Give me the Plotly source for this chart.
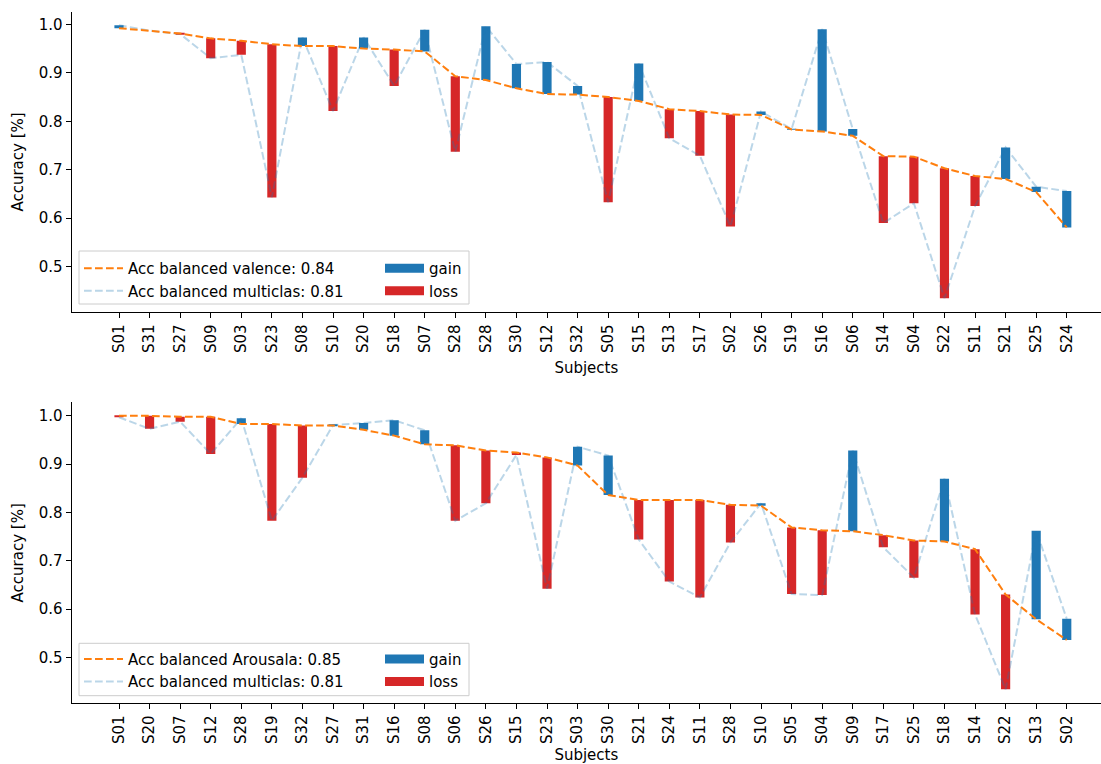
import plotly.graph_objects as go

# ---------------- data ----------------
subjects_valence = ["S01", "S31", "S27", "S09", "S03", "S23", "S08", "S10", "S20", "S18", "S07",
                    "S28", "S28", "S30", "S12", "S32", "S05", "S15", "S13", "S17", "S02", "S26",
                    "S19", "S16", "S06", "S14", "S04", "S22", "S11", "S21", "S25", "S24"]
acc_valence = [0.992, 0.987, 0.981, 0.971, 0.966, 0.959, 0.955, 0.955, 0.950, 0.948, 0.944,
               0.893, 0.885, 0.868, 0.856, 0.855, 0.850, 0.842, 0.825, 0.821, 0.814, 0.813,
               0.783, 0.779, 0.770, 0.728, 0.727, 0.703, 0.687, 0.681, 0.654, 0.581]
acc_multi_valence = [0.998, 0.987, 0.980, 0.930, 0.937, 0.643, 0.973, 0.821, 0.973, 0.873, 0.989,
                     0.737, 0.996, 0.918, 0.922, 0.873, 0.633, 0.919, 0.765, 0.729, 0.583, 0.820,
                     0.784, 0.990, 0.784, 0.590, 0.631, 0.435, 0.625, 0.746, 0.665, 0.656]

subjects_arousal = ["S01", "S20", "S07", "S12", "S28", "S19", "S32", "S27", "S31", "S16", "S08",
                    "S06", "S26", "S15", "S23", "S03", "S30", "S21", "S24", "S11", "S28", "S10",
                    "S05", "S04", "S09", "S17", "S25", "S18", "S14", "S22", "S13", "S02"]
acc_arousal = [1.000, 1.000, 0.998, 0.998, 0.983, 0.983, 0.980, 0.980, 0.971, 0.959, 0.941,
               0.939, 0.928, 0.924, 0.914, 0.897, 0.836, 0.826, 0.826, 0.826, 0.816, 0.814,
               0.769, 0.763, 0.761, 0.753, 0.742, 0.740, 0.724, 0.630, 0.579, 0.536]
acc_multi_arousal = [0.997, 0.973, 0.988, 0.921, 0.995, 0.783, 0.872, 0.981, 0.985, 0.991, 0.970,
                     0.783, 0.819, 0.919, 0.642, 0.936, 0.918, 0.744, 0.657, 0.624, 0.738, 0.819,
                     0.631, 0.629, 0.928, 0.728, 0.665, 0.870, 0.589, 0.434, 0.762, 0.580]

label_valence = "Acc balanced valence: 0.84"
label_arousal = "Acc balanced Arousala: 0.85"
label_multi = "Acc balanced multiclas: 0.81"
y_ticks = [0.5, 0.6, 0.7, 0.8, 0.9, 1.0]

# ---------------- style ----------------
W, H = 1101, 764
FONT = "DejaVu Sans"
FS = 15
ORANGE = "#ff7f0e"
LIGHTBLUE = "rgba(31,119,180,0.3)"
GAIN = "#1f77b4"
LOSS = "#d62728"
DASH = "7.7px,3.3px"


def px_x(p):
    return p / W


def px_y(p):
    return (H - p) / H


fig = go.Figure()

panels = [
    dict(subj=subjects_valence, main=acc_valence, multi=acc_multi_valence, label=label_valence,
         xa="x", ya="y", dom=(312.3, 11.7), rng=(0.406, 1.026),
         leg=("legend", "legend2"), box=(251, 304), rows=(266, 289)),
    dict(subj=subjects_arousal, main=acc_arousal, multi=acc_multi_arousal, label=label_arousal,
         xa="x2", ya="y2", dom=(703.3, 402.3), rng=(0.405, 1.028),
         leg=("legend3", "legend4"), box=(643.3, 695.7), rows=(656.7, 680.7)),
]

layout_extra = {}
for k, p in enumerate(panels):
    n = len(p["subj"])
    xs = list(range(n))
    gx = [i for i in xs if p["multi"][i] >= p["main"][i]]
    lx = [i for i in xs if p["multi"][i] < p["main"][i]]
    # gain bars
    fig.add_trace(go.Bar(x=gx, base=[p["main"][i] for i in gx],
                         y=[p["multi"][i] - p["main"][i] for i in gx],
                         width=0.3, marker=dict(color=GAIN, line=dict(width=0)),
                         xaxis=p["xa"], yaxis=p["ya"], showlegend=False, hoverinfo="skip"))
    # loss bars
    fig.add_trace(go.Bar(x=lx, base=[p["multi"][i] for i in lx],
                         y=[p["main"][i] - p["multi"][i] for i in lx],
                         width=0.3, marker=dict(color=LOSS, line=dict(width=0)),
                         xaxis=p["xa"], yaxis=p["ya"], showlegend=False, hoverinfo="skip"))
    # multiclass line
    fig.add_trace(go.Scatter(x=xs, y=p["multi"], mode="lines", name=label_multi,
                             line=dict(color=LIGHTBLUE, width=2, dash=DASH),
                             xaxis=p["xa"], yaxis=p["ya"], legend=p["leg"][0],
                             legendgroup=f"m{k}", legendrank=2))
    # main line
    fig.add_trace(go.Scatter(x=xs, y=p["main"], mode="lines", name=p["label"],
                             line=dict(color=ORANGE, width=2, dash=DASH),
                             xaxis=p["xa"], yaxis=p["ya"], legend=p["leg"][0],
                             legendgroup=f"v{k}", legendrank=1))
    # legend entries for the bars
    fig.add_trace(go.Scatter(x=[None], y=[None], mode="lines", name="gain",
                             line=dict(color=GAIN, width=9),
                             xaxis=p["xa"], yaxis=p["ya"], legend=p["leg"][1],
                             legendgroup=f"g{k}", legendrank=1))
    fig.add_trace(go.Scatter(x=[None], y=[None], mode="lines", name="loss",
                             line=dict(color=LOSS, width=9),
                             xaxis=p["xa"], yaxis=p["ya"], legend=p["leg"][1],
                             legendgroup=f"l{k}", legendrank=2))

    axis_common = dict(showline=True, linecolor="black", linewidth=1.1, ticks="outside",
                       ticklen=5, tickwidth=1.1, tickcolor="black", showgrid=False,
                       zeroline=False, automargin=False,
                       tickfont=dict(family=FONT, size=FS, color="black"))
    xkey = "xaxis" if p["xa"] == "x" else "xaxis2"
    ykey = "yaxis" if p["ya"] == "y" else "yaxis2"
    layout_extra[xkey] = dict(axis_common, domain=[px_x(71.7), 1.0], range=[-1.547, 32.12],
                              tickmode="array", tickvals=xs, ticktext=p["subj"], tickangle=-90,
                              anchor=p["ya"],
                              title=dict(text="Subjects", font=dict(family=FONT, size=FS, color="black"),
                                         standoff=10))
    layout_extra[ykey] = dict(axis_common, domain=[px_y(p["dom"][0]), px_y(p["dom"][1])],
                              range=list(p["rng"]), tickmode="array", tickvals=y_ticks,
                              tickformat=".1f", anchor=p["xa"],
                              title=dict(text="Accuracy [%]", font=dict(family=FONT, size=FS, color="black"),
                                         standoff=11))
    legfont = dict(family=FONT, size=FS, color="black")
    layout_extra[p["leg"][0]] = dict(x=px_x(79), y=px_y(p["rows"][0] - 14), xanchor="left", yanchor="top",
                                     bgcolor="rgba(0,0,0,0)", borderwidth=0, font=legfont,
                                     traceorder="grouped", tracegroupgap=0, itemwidth=39)
    layout_extra[p["leg"][1]] = dict(x=px_x(380), y=px_y(p["rows"][0] - 14), xanchor="left", yanchor="top",
                                     bgcolor="rgba(0,0,0,0)", borderwidth=0, font=legfont,
                                     traceorder="grouped", tracegroupgap=0, itemwidth=39)

shapes = []
for p in panels:
    shapes.append(dict(type="rect", xref="paper", yref="paper",
                       x0=px_x(79), x1=px_x(469), y0=px_y(p["box"][1]), y1=px_y(p["box"][0]),
                       line=dict(color="#cccccc", width=1), fillcolor="rgba(255,255,255,0.8)",
                       layer="above"))

fig.update_layout(width=W, height=H, margin=dict(l=0, r=0, t=0, b=0),
                  paper_bgcolor="white", plot_bgcolor="white", barmode="overlay",
                  font=dict(family=FONT, size=FS, color="black"),
                  shapes=shapes, **layout_extra)

fig.write_html("out.html")
